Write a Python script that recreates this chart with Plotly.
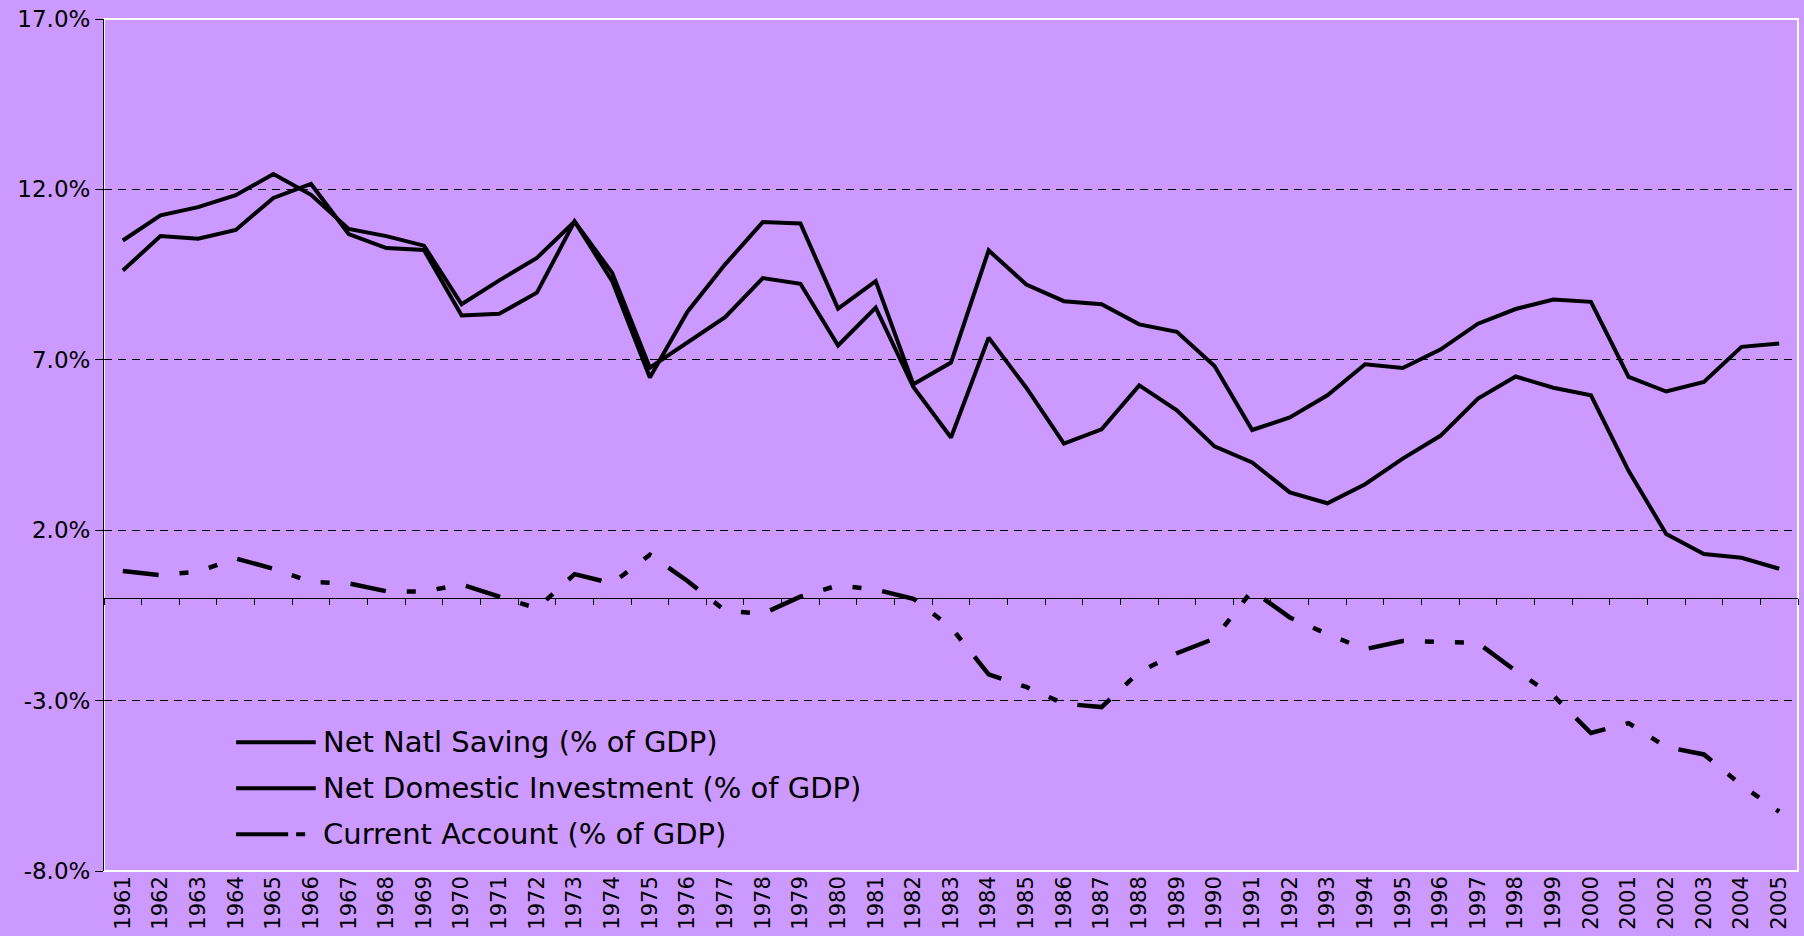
import plotly.graph_objects as go

years = [str(y) for y in range(1961, 2006)]

net_natl_saving = [10.50, 11.24, 11.48, 11.83, 12.45, 11.84, 10.84, 10.63, 10.35, 8.63,
                   9.33, 9.99, 11.06, 9.55, 6.77, 7.50, 8.25, 9.40, 9.23, 7.42,
                   8.53, 6.20, 4.72, 7.65, 6.18, 4.54, 4.96, 6.25, 5.52, 4.46,
                   3.99, 3.11, 2.79, 3.35, 4.10, 4.77, 5.86, 6.51, 6.18, 5.96,
                   3.74, 1.89, 1.30, 1.19, 0.87]

net_dom_investment = [9.62, 10.63, 10.55, 10.81, 11.75, 12.16, 10.69, 10.28, 10.22, 8.30,
                      8.35, 8.97, 11.06, 9.31, 6.48, 8.41, 9.80, 11.04, 11.00, 8.50,
                      9.31, 6.28, 6.92, 10.21, 9.21, 8.72, 8.63, 8.04, 7.82, 6.82,
                      4.94, 5.31, 5.96, 6.87, 6.76, 7.30, 8.06, 8.49, 8.77, 8.70,
                      6.50, 6.07, 6.35, 7.38, 7.48]

current_account = [0.80, 0.68, 0.79, 1.17, 0.87, 0.48, 0.44, 0.21, 0.20, 0.41,
                   0.05, -0.29, 0.71, 0.44, 1.28, 0.51, -0.36, -0.45, 0.05, 0.38,
                   0.26, -0.01, -0.85, -2.23, -2.60, -3.09, -3.19, -2.16, -1.61, -1.18,
                   0.23, -0.56, -1.05, -1.49, -1.25, -1.28, -1.31, -2.13, -2.85, -3.95,
                   -3.66, -4.36, -4.58, -5.48, -6.26]

y_ticks = [-8, -3, 2, 7, 12, 17]

BG = "#CC99FF"
FONT = "DejaVu Sans"
CA_DASH = "36px,21px,9px,21px,9px,21px"

series = [
    ("Net Natl Saving (% of GDP)", net_natl_saving, "x", "solid", 4),
    ("Net Domestic Investment (% of GDP)", net_dom_investment, "x", "solid", 4),
    ("Current Account (% of GDP)", current_account, "x2", CA_DASH, 4.5),
]

fig = go.Figure()
for name, vals, xa, dash, w in series:
    fig.add_trace(go.Scatter(
        x=years, y=vals, mode="lines", name=name, xaxis=xa,
        line=dict(color="black", width=w, dash=dash), showlegend=False,
    ))

# white frame round the plot area, above the grid
fig.add_shape(type="rect", xref="paper", yref="paper", x0=0, x1=1, y0=0, y1=1,
              line=dict(color="white", width=2), layer="between")

# legend drawn by hand so the sample lines are long like the original
legend_dash = ["solid", "solid", "52px,8px,9px,30px"]
for i, (name, vals, xa, dash, w) in enumerate(series):
    ly = 0.151 - i * 0.054
    fig.add_shape(type="line", xref="paper", yref="paper",
                  x0=0.078, x1=0.125, y0=ly, y1=ly,
                  line=dict(color="black", width=4, dash=legend_dash[i]))
    fig.add_annotation(xref="paper", yref="paper", x=0.128, y=ly,
                       xanchor="left", yanchor="middle", showarrow=False,
                       text=name, font=dict(size=29, family=FONT, color="black"))

fig.update_layout(
    width=1804, height=936,
    margin=dict(l=104, r=6, t=17, b=65),
    paper_bgcolor=BG, plot_bgcolor=BG,
    font=dict(family=FONT, color="black"),
    showlegend=False,
    xaxis=dict(
        type="category", range=[-0.5, 44.5],
        showgrid=False, showline=False, ticks="",
        tickangle=-90, tickfont=dict(size=21),
    ),
    # zero axis with ticks between the years, no labels
    xaxis2=dict(
        type="category", range=[-0.5, 44.5], overlaying="x",
        anchor="free", position=8 / 25,
        showgrid=False, showline=True, linecolor="black", linewidth=1,
        ticks="outside", tickson="boundaries", ticklen=6,
        tickcolor="black", showticklabels=False,
    ),
    yaxis=dict(
        range=[-8, 17],
        tickvals=y_ticks, ticktext=[f"{v:.1f}%" for v in y_ticks],
        showgrid=True, gridcolor="black", gridwidth=1, griddash="8px,6px",
        zeroline=False,
        showline=True, linecolor="black", linewidth=1,
        ticks="outside", ticklen=8, tickcolor="black",
        tickfont=dict(size=23),
    ),
)

fig.write_html("out.html", config={"displayModeBar": False},
               post_script="document.body.style.margin='0';document.body.style.overflow='hidden';")
